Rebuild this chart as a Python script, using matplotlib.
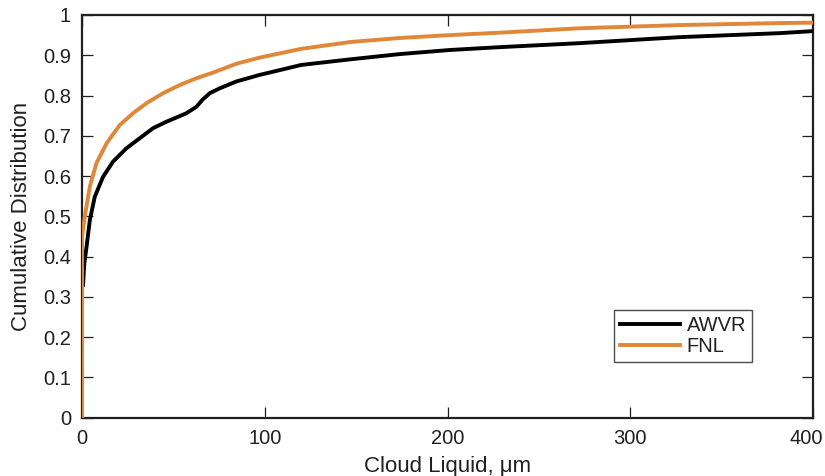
import matplotlib
matplotlib.use("Agg")
import matplotlib.pyplot as plt
import matplotlib.transforms as mtransforms

plt.rcParams['font.family'] = ['Liberation Sans', 'DejaVu Sans']

awvr_x = [0.6, 1.2, 2.5, 4.3, 7, 11.5, 17, 24.3, 31.6, 38.9, 46.2, 53.5, 57.1, 62.6,
          66, 70, 75.4, 84.5, 97, 120, 147, 174, 201, 228, 272, 327, 382, 400]
awvr_y = [0.33, 0.38, 0.425, 0.491, 0.549, 0.598, 0.636, 0.669, 0.694, 0.719, 0.735,
          0.749, 0.756, 0.772, 0.79, 0.806, 0.818, 0.835, 0.851, 0.876, 0.89, 0.903,
          0.913, 0.92, 0.93, 0.945, 0.955, 0.96]

fnl_x = [0, 0, 1.5, 4.3, 7.9, 13.4, 20.7, 27.9, 35.3, 44.4, 53.5, 62.6, 71.7, 84.5,
         97, 120, 147, 174, 201, 228, 272, 327, 382, 400]
fnl_y = [0, 0.45, 0.499, 0.574, 0.632, 0.681, 0.727, 0.756, 0.781, 0.806, 0.826, 0.843,
         0.857, 0.879, 0.894, 0.916, 0.933, 0.943, 0.95, 0.956, 0.967, 0.975, 0.98, 0.981]

x_ticks = [0, 100, 200, 300, 400]
y_ticks = [0, 0.1, 0.2, 0.3, 0.4, 0.5, 0.6, 0.7, 0.8, 0.9, 1]
y_tick_labels = ["0", "0.1", "0.2", "0.3", "0.4", "0.5", "0.6", "0.7", "0.8", "0.9", "1"]

text_color = '#231f20'

fig = plt.figure(figsize=(8.25, 4.76), dpi=100)
ax = fig.add_axes([82 / 825, 1 - 417.7 / 476, (813 - 82) / 825, (417.7 - 15) / 476])

ax.plot(awvr_x, awvr_y, color='black', lw=2.8, label='AWVR', zorder=3)
ax.plot(fnl_x, fnl_y, color='#E0873A', lw=2.8, label='FNL', zorder=4)

ax.set_xlim(0, 400)
ax.set_ylim(0, 1)
ax.set_xticks(x_ticks)
ax.set_yticks(y_ticks)
ax.set_yticklabels(y_tick_labels)
ax.tick_params(direction='in', length=8, width=0.9, top=True, right=True,
               labelsize=14.5, labelcolor=text_color, color=text_color, pad=8)
for s in ax.spines.values():
    s.set_linewidth(1.6)
    s.set_color(text_color)
    s.set_zorder(2)

# nudge the last x tick label left so it stays inside the figure
last = ax.xaxis.get_major_ticks()[-1].label1
last.set_transform(last.get_transform() +
                   mtransforms.ScaledTranslation(-7 / 100, 0, fig.dpi_scale_trans))

ax.set_xlabel('Cloud Liquid, μm', fontsize=16, color=text_color, labelpad=6)
ax.set_ylabel('Cumulative Distribution', fontsize=16, color=text_color, labelpad=8)

leg = ax.legend(loc='lower right', bbox_to_anchor=(752 / 825, 1 - 362 / 476),
                bbox_transform=fig.transFigure, fontsize=14.5, frameon=True,
                fancybox=False, edgecolor=text_color, handlelength=3.0,
                handletextpad=0.3, borderpad=0.3, labelspacing=0.1, borderaxespad=0)
leg.get_frame().set_linewidth(1.0)
for t in leg.get_texts():
    t.set_color(text_color)

fig.savefig('out.png', dpi=100)
